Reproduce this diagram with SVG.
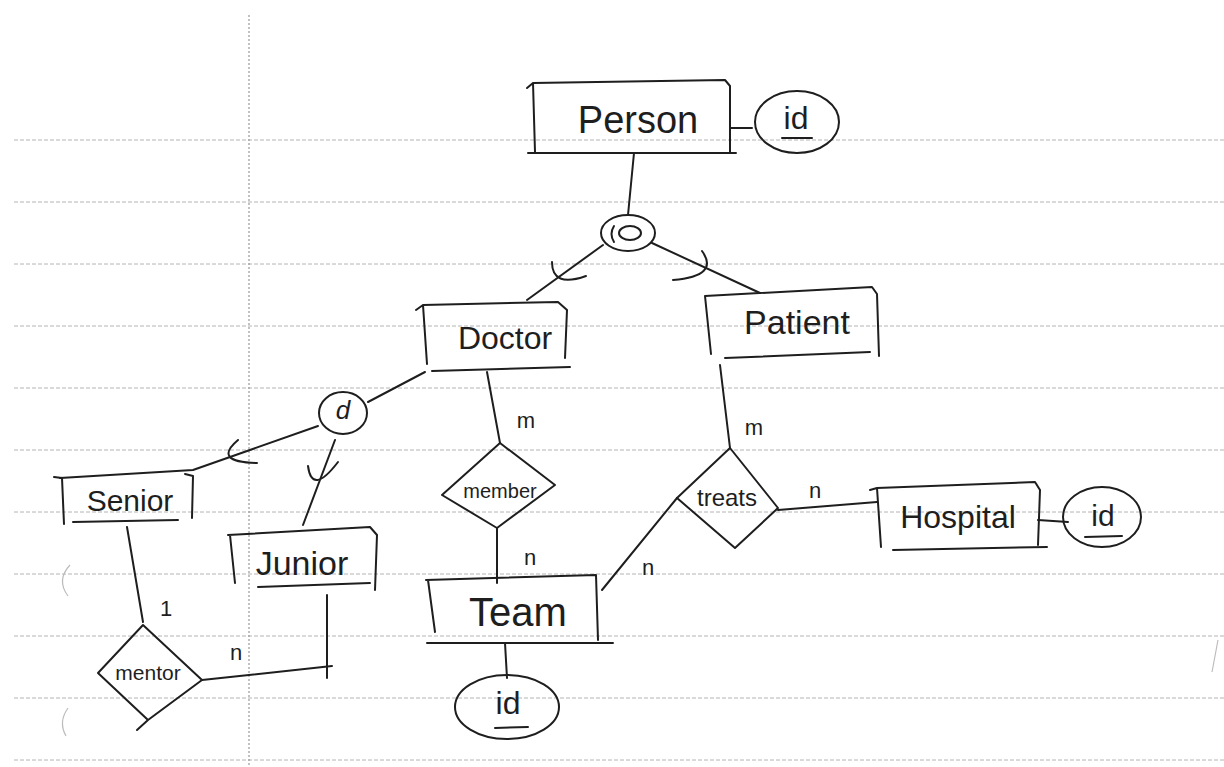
<svg xmlns="http://www.w3.org/2000/svg" width="1224" height="767" viewBox="0 0 1224 767">
<style>
.rule{stroke:#b4b4b4;stroke-width:1;stroke-dasharray:4 2;fill:none}
.ink{stroke:#1e1e1e;stroke-width:2;fill:none;stroke-linecap:round;stroke-linejoin:round}
.t{font-family:"Liberation Sans",Arial,sans-serif;fill:#1e1e1e;text-anchor:middle;dominant-baseline:central}
.lbl{font-family:"Liberation Sans",Arial,sans-serif;fill:#1e1e1e;text-anchor:middle;dominant-baseline:central;font-size:22px}
</style>
<rect width="1224" height="767" fill="#ffffff"/>
<g id="paper">
<line class="rule" x1="14" y1="140" x2="1224" y2="140"/>
<line class="rule" x1="14" y1="202" x2="1224" y2="202"/>
<line class="rule" x1="14" y1="264" x2="1224" y2="264"/>
<line class="rule" x1="14" y1="326" x2="1224" y2="326"/>
<line class="rule" x1="14" y1="388" x2="1224" y2="388"/>
<line class="rule" x1="14" y1="450" x2="1224" y2="450"/>
<line class="rule" x1="14" y1="512" x2="1224" y2="512"/>
<line class="rule" x1="14" y1="574" x2="1224" y2="574"/>
<line class="rule" x1="14" y1="636" x2="1224" y2="636"/>
<line class="rule" x1="14" y1="698" x2="1224" y2="698"/>
<line class="rule" x1="14" y1="760" x2="1224" y2="760"/>
<line x1="249" y1="15" x2="249" y2="767" stroke="#999" stroke-width="1.2" stroke-dasharray="2 2"/>
<path d="M70,565 Q56,580 68,596" stroke="#bbb" stroke-width="1.2" fill="none"/>
<path d="M68,708 Q58,722 66,736" stroke="#bbb" stroke-width="1.2" fill="none"/>
<path d="M1218,640 L1212,672" stroke="#bbb" stroke-width="1.2" fill="none"/>
</g>
<g id="connectors">
<path class="ink" d="M730,128 L752,128"/>
<path class="ink" d="M634,153 L628,215"/>
<path class="ink" d="M603,245 L527,300"/>
<path class="ink" d="M552,262 Q552,288 586,276"/>
<path class="ink" d="M652,243 L760,293"/>
<path class="ink" d="M702,251 Q720,276 673,280"/>
<path class="ink" d="M425,372 L368,402"/>
<path class="ink" d="M318,426 L193,470 L60,478"/>
<path class="ink" d="M238,440 Q212,462 257,463"/>
<path class="ink" d="M335,440 L303,525"/>
<path class="ink" d="M308,466 Q312,496 338,462"/>
<path class="ink" d="M487,372 L500,443"/>
<path class="ink" d="M497,528 L497,583"/>
<path class="ink" d="M720,365 L730,448"/>
<path class="ink" d="M602,590 L677,498"/>
<path class="ink" d="M778,510 L877,502"/>
<path class="ink" d="M1038,520 L1068,522"/>
<path class="ink" d="M505,643 L507,678"/>
<path class="ink" d="M127,527 L143,622"/>
<path class="ink" d="M327,595 L327,678"/>
<path class="ink" d="M202,680 L332,666"/>
<text class="lbl" x="526" y="420">m</text>
<text class="lbl" x="530" y="557">n</text>
<text class="lbl" x="754" y="427">m</text>
<text class="lbl" x="648" y="567">n</text>
<text class="lbl" x="815" y="490">n</text>
<text class="lbl" x="236" y="652">n</text>
<text class="lbl" x="166" y="608" font-size="24">1</text>
</g>
<g id="person">
<path class="ink" d="M527,88 L533,83 L725,80 L730,86 L730,153 M533,83 L535,152 M528,153 L736,153"/>
<text class="t" x="638" y="120" font-size="38">Person</text>
</g>
<g id="person-id">
<ellipse class="ink" cx="797" cy="122" rx="42" ry="31"/>
<text class="t" x="796" y="118" font-size="32">id</text>
<path class="ink" d="M782,138 L812,138"/>
</g>
<g id="overlap">
<ellipse class="ink" cx="628" cy="233" rx="27" ry="18"/>
<path class="ink" d="M614,226 Q609,234 614,242"/>
<ellipse class="ink" cx="630" cy="233" rx="11" ry="7"/>
</g>
<g id="doctor">
<path class="ink" d="M416,310 L423,305 L558,302 L567,310 L565,358 M423,305 L427,364 M432,371 L570,367"/>
<text class="t" x="505" y="338" font-size="32">Doctor</text>
</g>
<g id="patient">
<path class="ink" d="M705,296 L872,287 L877,294 L879,356 M705,296 L711,354 M725,358 L870,352"/>
<text class="t" x="797" y="322" font-size="34">Patient</text>
</g>
<g id="disjoint">
<ellipse class="ink" cx="343" cy="413" rx="24" ry="21"/>
<text class="t" x="343" y="410" font-size="26" font-style="italic">d</text>
</g>
<g id="senior">
<path class="ink" d="M54,477 L62,478 L64,524 M185,474 L193,476 L192,518 M73,522 L178,520"/>
<text class="t" x="130" y="500" font-size="30">Senior</text>
</g>
<g id="junior">
<path class="ink" d="M228,535 L370,527 L377,535 L375,590 M230,535 L235,583 M258,587 L370,583"/>
<text class="t" x="302" y="563" font-size="34">Junior</text>
</g>
<g id="member">
<path class="ink" d="M500,443 L555,485 L497,528 L442,495 Z"/>
<text class="t" x="500" y="491" font-size="20">member</text>
</g>
<g id="team">
<path class="ink" d="M426,580 L596,575 L598,640 M428,580 L435,632 M427,643 L613,643"/>
<text class="t" x="518" y="612" font-size="40">Team</text>
</g>
<g id="team-id">
<ellipse class="ink" cx="507" cy="707" rx="52" ry="32"/>
<text class="t" x="508" y="703" font-size="32">id</text>
<path class="ink" d="M495,728 L528,727"/>
</g>
<g id="treats">
<path class="ink" d="M730,448 L778,508 L735,548 L677,498 Z"/>
<text class="t" x="727" y="497" font-size="24">treats</text>
</g>
<g id="hospital">
<path class="ink" d="M870,490 L877,488 L1035,482 L1040,490 L1038,545 M877,488 L881,547 M893,550 L1047,547"/>
<text class="t" x="958" y="517" font-size="32">Hospital</text>
</g>
<g id="hospital-id">
<ellipse class="ink" cx="1102" cy="517" rx="39" ry="30"/>
<text class="t" x="1103" y="515" font-size="30">id</text>
<path class="ink" d="M1085,537 L1122,536"/>
</g>
<g id="mentor">
<path class="ink" d="M143,625 L202,680 L148,720 L98,673 Z M148,720 L137,730"/>
<text class="t" x="148" y="672" font-size="21">mentor</text>
</g>
</svg>
